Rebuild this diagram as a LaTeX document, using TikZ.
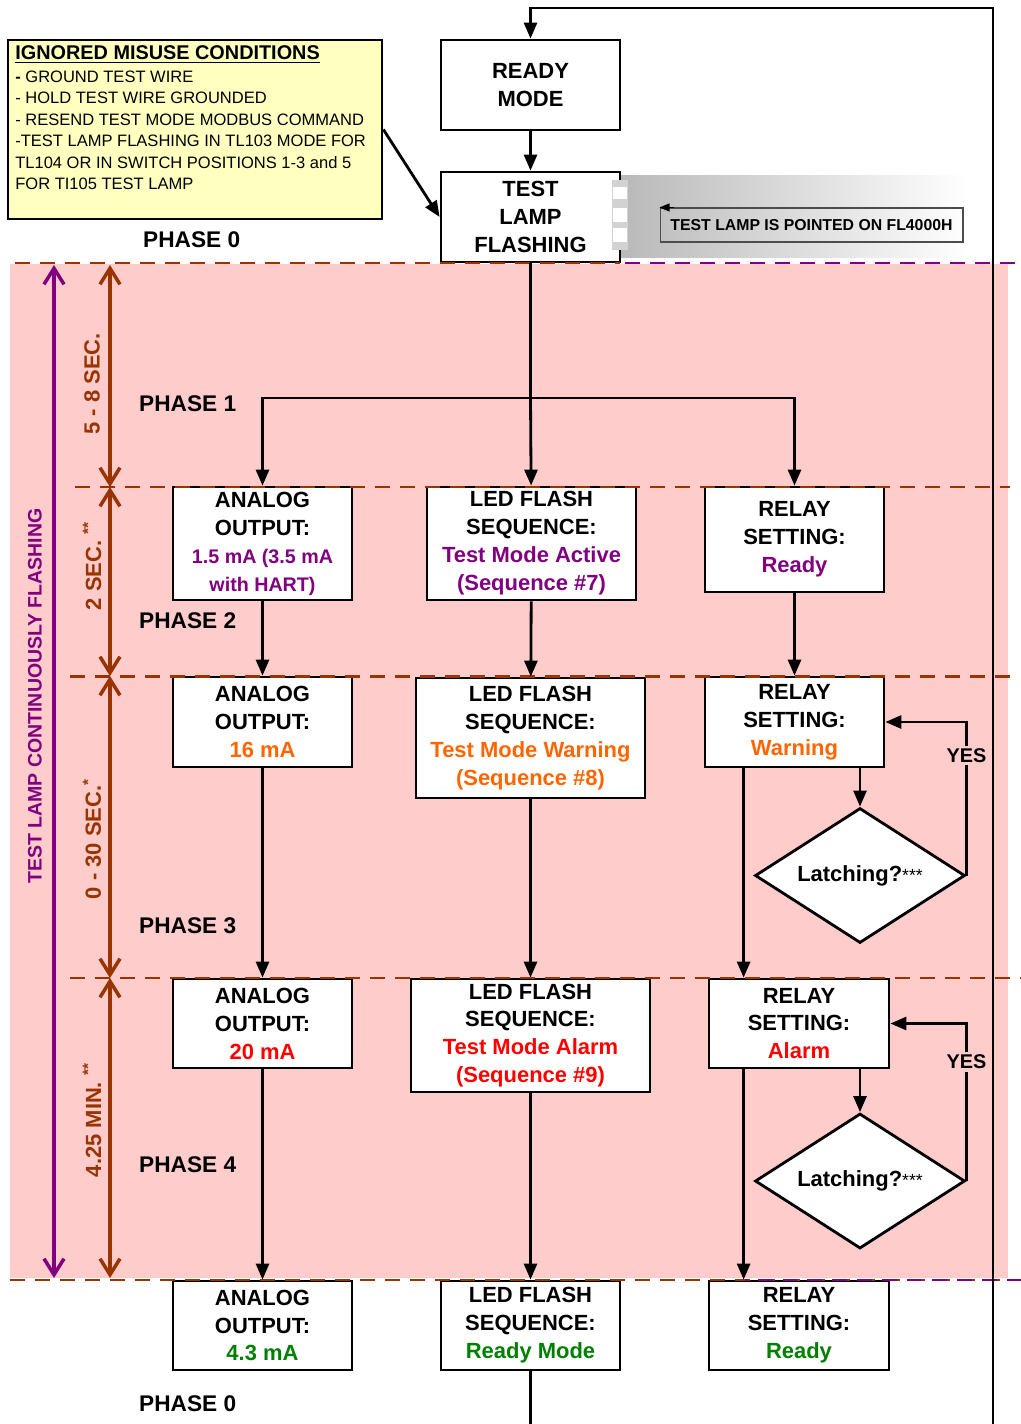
\documentclass[tikz,border=0pt]{standalone}
\usepackage{fontspec}
\setmainfont{Liberation Sans}
\usetikzlibrary{shapes.geometric,arrows.meta,calc}

\definecolor{phasepink}{HTML}{FFCCCC}
\definecolor{dimbrown}{HTML}{993300}
\definecolor{lamppurple}{HTML}{800080}
\definecolor{warnorange}{HTML}{FF6600}
\definecolor{alarmred}{HTML}{FF0000}
\definecolor{readygreen}{HTML}{008000}
\definecolor{noteyellow}{HTML}{FFFFC0}

\newcommand{\boxfont}{\bfseries\fontsize{12.5}{15.9}\selectfont}
\newcommand{\phasefont}{\bfseries\fontsize{12.9}{15}\selectfont}

\tikzset{
  flowbox/.style={draw, fill=white, line width=1.6pt, inner sep=0pt, align=center,
    font=\boxfont, minimum width=3.58cm, minimum height=1.8cm},
  decision/.style={diamond, draw, fill=white, line width=1.6pt, inner sep=0pt,
    aspect=1.556, minimum width=4.2cm, minimum height=2.7cm, font=\boxfont},
  flowline/.style={line width=1.6pt, -{Triangle[length=3.2mm,width=2.6mm]}},
  plainline/.style={line width=1.6pt},
  phasedash/.style={dimbrown, line width=1.5pt, dash pattern=on 0.3cm off 0.2cm},
  timearrow/.style={line width=2pt,
    {Straight Barb[length=3.2mm,width=4mm]}-{Straight Barb[length=3.2mm,width=4mm]}},
  phaselabel/.style={anchor=west, font=\phasefont},
  timelabel/.style={rotate=90, text=dimbrown, font=\bfseries\fontsize{12.5}{15}\selectfont},
}

\begin{document}
\begin{tikzpicture}[x=0.02cm,y=-0.02cm]
  \useasboundingbox (0,0) rectangle (1021,1424);

  % phase background and lamp note shading
  \fill[phasepink] (10,264) rectangle (1008,1278);
  \shade[left color=gray!55, right color=white] (620,175) rectangle (970,257);

  % time spans
  \draw[timearrow, lamppurple] (54,265) -- (54,1278);
  \foreach \ya/\yb in {265/487, 487/676, 676/978, 978/1278}
    \draw[timearrow, dimbrown] (110,\ya) -- (110,\yb);

  \node[rotate=90, text=lamppurple, font=\bfseries\fontsize{11.1}{13}\selectfont]
    (flashlabel) at (35,696) {TEST LAMP CONTINUOUSLY FLASHING};
  \node[timelabel] (span1) at (92,384) {5 - 8 SEC.};
  \node[timelabel] (span2) at (92,566) {2 SEC. \textsuperscript{**}};
  \node[timelabel] (span3) at (92,839) {0 - 30 SEC.\textsuperscript{*}};
  \node[timelabel] (span4) at (92,1120) {4.25 MIN. \textsuperscript{**}};

  % phase names
  \node[phaselabel] (phase0top) at (137,240) {PHASE 0};
  \node[phaselabel] (phase1) at (133,404) {PHASE 1};
  \node[phaselabel] (phase2) at (133,621) {PHASE 2};
  \node[phaselabel] (phase3) at (133,926) {PHASE 3};
  \node[phaselabel] (phase4) at (133,1165) {PHASE 4};
  \node[phaselabel] (phase0bot) at (133,1404) {PHASE 0};

  % misuse list
  \node[draw, fill=noteyellow, line width=1.6pt, minimum width=7.48cm,
    minimum height=3.58cm] (misuse) at (195,129.5) {};
  \node[anchor=north west, align=left, inner sep=0pt,
    font=\fontsize{9.4}{12.2}\selectfont] (misusetext) at (15,45)
    {{\bfseries\fontsize{11.3}{13}\selectfont\underline{IGNORED MISUSE CONDITIONS}}\\[1pt]
     \textbf{-} GROUND TEST WIRE\\
     - HOLD TEST WIRE GROUNDED\\
     - RESEND TEST MODE MODBUS COMMAND\\
     -TEST LAMP FLASHING IN TL103 MODE FOR\\
     TL104 OR IN SWITCH POSITIONS 1-3 and 5\\
     FOR TI105 TEST LAMP};

  % main boxes
  \node[flowbox] (ready) at (530.5,85) {READY\\MODE};
  \node[flowbox] (test) at (530.5,217) {TEST\\LAMP\\FLASHING};

  \node[flowbox, minimum height=2.26cm] (a2) at (262.5,543.5)
    {ANALOG\\OUTPUT:\\\textcolor{lamppurple}{\fontsize{11.2}{13}\selectfont 1.5 mA (3.5 mA}\\
     \textcolor{lamppurple}{\fontsize{11.2}{13}\selectfont with HART)}};
  \node[flowbox] (a3) at (262.5,722) {ANALOG\\OUTPUT:\\\textcolor{warnorange}{16 mA}};
  \node[flowbox, minimum height=1.78cm] (a4) at (262.5,1023.5) {ANALOG\\OUTPUT:\\\textcolor{alarmred}{20 mA}};
  \node[flowbox, minimum height=1.78cm] (a0) at (262.5,1325.5) {ANALOG\\OUTPUT:\\\textcolor{readygreen}{4.3 mA}};

  \node[flowbox, minimum width=4.18cm, minimum height=2.26cm] (b2) at (531.5,543.5)
    {LED FLASH\\SEQUENCE:\\\textcolor{lamppurple}{Test Mode Active}\\\textcolor{lamppurple}{(Sequence \#7)}};
  \node[flowbox, minimum width=4.58cm, minimum height=2.4cm] (b3) at (530.5,738)
    {LED FLASH\\SEQUENCE:\\\textcolor{warnorange}{Test Mode Warning}\\\textcolor{warnorange}{(Sequence \#8)}};
  \node[flowbox, minimum width=4.78cm, minimum height=2.26cm] (b4) at (530.5,1035.5)
    {LED FLASH\\SEQUENCE:\\\textcolor{alarmred}{Test Mode Alarm}\\\textcolor{alarmred}{(Sequence \#9)}};
  \node[flowbox, minimum height=1.78cm] (b0) at (530.5,1325.5)
    {LED FLASH\\SEQUENCE:\\\textcolor{readygreen}{Ready Mode}};

  \node[flowbox, minimum height=2.1cm] (c2) at (794.5,539.5) {RELAY\\SETTING:\\\textcolor{lamppurple}{Ready}};
  \node[flowbox] (c3) at (794.5,722) {RELAY\\SETTING:\\\textcolor{warnorange}{Warning}};
  \node[flowbox, minimum width=3.6cm, minimum height=1.78cm] (c4) at (799,1023.5) {RELAY\\SETTING:\\\textcolor{alarmred}{Alarm}};
  \node[flowbox, minimum width=3.6cm, minimum height=1.78cm] (c0) at (799,1325.5) {RELAY\\SETTING:\\\textcolor{readygreen}{Ready}};

  \node[decision] (d3) at (860,875.5) {Latching?{\mdseries\fontsize{10}{10}\selectfont***}};
  \node[decision] (d4) at (860,1181) {Latching?{\mdseries\fontsize{10}{10}\selectfont***}};

  % selection marks beside the flashing box
  \fill[gray!35] (612,180) rectangle (628,250);
  \foreach \ya/\yb in {187/199, 208/222, 228/242}
    \fill[white] (613,\ya) rectangle (627,\yb);

  % lamp note
  \node[draw=black!70, line width=0.6pt, inner sep=0pt, minimum width=6.06cm,
    minimum height=0.68cm, font=\bfseries\fontsize{9}{11}\selectfont]
    (pointnote) at (811.5,225) {TEST LAMP IS POINTED ON FL4000H};
  \draw[line width=0.6pt, -{Triangle[length=2mm,width=1.6mm]}]
    ($(pointnote.north west)+(14,0)$) -- (pointnote.north west);

  % phase borders
  \draw[phasedash] (15,263) -- (620,263);
  \draw[phasedash, lamppurple] (625,263) -- (1021,263);
  \draw[phasedash] (75,487) -- (1010,487);
  \draw[phasedash] (70,676.5) -- (1010,676.5);
  \draw[phasedash] (70,978) -- (1021,978);
  \draw[phasedash] (10,1280) -- (1021,1280);
  \draw[phasedash, lamppurple, dash phase=0.25cm] (745,1280) -- (1021,1280);

  % connectors
  \coordinate (split) at (530.5,398);
  \coordinate (looptop) at (530.5,8);
  \coordinate (loopend) at (993,1424);

  \draw[flowline] (loopend) |- (looptop) -- (ready);
  \draw[flowline] (ready) -- (test);
  \draw[flowline] (misuse.east) -- (test.west);
  \draw[plainline] (test) -- (split);
  \draw[flowline] (split) -| (a2);
  \draw[flowline] (split) -- (b2);
  \draw[flowline] (split) -| (c2);

  \draw[flowline] (a2) -- (a3);
  \draw[flowline] (a3) -- (a4);
  \draw[flowline] (a4) -- (a0);

  \draw[flowline] (b2) -- (b3);
  \draw[flowline] (b3) -- (b4);
  \draw[flowline] (b4) -- (b0);
  \draw[plainline] (b0) -- (b0 |- loopend);

  \draw[flowline] (c2) -- (c3);
  \draw[flowline] ($(c3.south west)+(40,0)$) -- ($(c4.north west)+(36,0)$);
  \draw[flowline] (c3.south -| d3.north) -- (d3);
  \draw[flowline] (d3.east) |- node[pos=0.39, fill=phasepink, inner sep=1.5pt,
    font=\bfseries\fontsize{11.3}{13}\selectfont] (yes3) {YES} (c3.east);

  \draw[flowline] ($(c4.south west)+(36,0)$) -- ($(c0.north west)+(36,0)$);
  \draw[flowline] (c4.south -| d4.north) -- (d4);
  \draw[flowline] (d4.east) |- node[pos=0.378, fill=phasepink, inner sep=1.5pt,
    font=\bfseries\fontsize{11.3}{13}\selectfont] (yes4) {YES} (c4.east);

\end{tikzpicture}
\end{document}
